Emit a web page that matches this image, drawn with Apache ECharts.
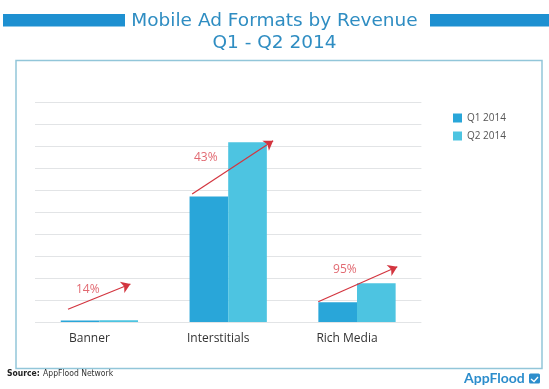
<!DOCTYPE html>
<html>
<head>
<meta charset="utf-8">
<script src="https://cdn.jsdelivr.net/npm/echarts@6/dist/echarts.min.js"></script>
<style>html,body{margin:0;padding:0;background:#fff;}#c{width:549px;height:389px;}</style>
</head>
<body>
<div id="c"></div>
<script>
const categories = ['Banner', 'Interstitials', 'Rich Media'];
const q1Values = [0.07, 5.7, 0.9];
const q2Values = [0.08, 8.17, 1.76];
const seriesNames = ['Q1 2014', 'Q2 2014'];
const growthLabels = ['14%', '43%', '95%'];
const arrowStart = [[-0.244, 0.58], [0.72, 5.82], [1.699, 0.92]];
const arrowEnd = [[0.241, 1.73], [1.349, 8.24], [2.313, 2.51]];
const labelPos = [[-0.09, 1.49], [0.826, 7.49], [1.906, 2.40]];

const chart = echarts.init(document.getElementById('c'), null, {renderer: 'canvas'});
const FONT = '"Open Sans", Lato, sans-serif';
const option = {
  animation: false,
  backgroundColor: '#ffffff',
  title: {
    text: 'Mobile Ad Formats by Revenue\nQ1 - Q2 2014',
    left: 'center',
    top: 5,
    padding: [5, 5, 5, 14],
    textStyle: {fontFamily: '"DejaVu Sans", sans-serif', fontSize: 18.5, fontWeight: 'normal', color: '#2f8dc2', lineHeight: 22}
  },
  legend: {
    orient: 'vertical',
    left: 448,
    top: 108,
    itemWidth: 9,
    itemHeight: 9,
    itemGap: 8,
    icon: 'rect',
    data: seriesNames,
    textStyle: {fontFamily: FONT, fontSize: 10, color: '#555'}
  },
  grid: {left: 35, right: 127.6, top: 102, bottom: 67},
  xAxis: [{
    type: 'category',
    data: categories,
    axisLine: {show: false},
    axisTick: {show: false},
    axisLabel: {fontFamily: FONT, fontSize: 12, color: '#333', margin: 11, padding: [0, 20, 0, 0]}
  }, {
    type: 'value', min: -0.5, max: 2.5, show: false
  }],
  yAxis: {
    type: 'value', min: 0, max: 10, interval: 1,
    axisLine: {show: false}, axisTick: {show: false}, axisLabel: {show: false},
    splitLine: {lineStyle: {color: '#e2e4e6', width: 1}}
  },
  series: [{
    name: seriesNames[0], type: 'bar', data: q1Values, barGap: '0%', barCategoryGap: '40%',
    itemStyle: {color: '#29a6d9'}
  }, {
    name: seriesNames[1], type: 'bar', data: q2Values,
    itemStyle: {color: '#4dc4e1'}
  }, {
    type: 'lines', coordinateSystem: 'cartesian2d', xAxisIndex: 1, yAxisIndex: 0,
    symbol: ['none', 'arrow'], symbolSize: [0, 9],
    lineStyle: {color: '#d3353f', width: 1.2, opacity: 1},
    data: arrowStart.map((s, i) => ({coords: [s, arrowEnd[i]]})),
    z: 5
  }, {
    type: 'scatter', xAxisIndex: 1, yAxisIndex: 0, symbolSize: 0,
    data: labelPos.map((p, i) => ({value: p, name: growthLabels[i]})),
    label: {show: true, position: 'inside', formatter: p => p.name, fontFamily: FONT, fontSize: 12, color: '#d9444d'},
    z: 6
  }],
  graphic: [
    {type: 'rect', shape: {x: 3, y: 14, width: 122, height: 12.5}, style: {fill: '#1e90d1'}},
    {type: 'rect', shape: {x: 430, y: 14, width: 119, height: 12.5}, style: {fill: '#1e90d1'}},
    {type: 'rect', shape: {x: 16, y: 60.5, width: 526, height: 308}, style: {fill: 'none', stroke: '#92c6d9', lineWidth: 1.5}, z: -1},
    {type: 'text', left: 7, top: 368, style: {
      text: '{b|Source:} {n|AppFlood Network}',
      rich: {
        b: {fontFamily: '"Liberation Sans Narrow", "DejaVu Sans Condensed", sans-serif', fontWeight: 'bold', fontSize: 8.5, fill: '#222'},
        n: {fontFamily: '"Liberation Sans Narrow", "DejaVu Sans Condensed", sans-serif', fontSize: 8.5, fill: '#333'}
      }
    }},
    {type: 'text', left: 464, top: 371.5, style: {text: 'AppFlood', fontFamily: 'Lato, "Open Sans", sans-serif', fontWeight: 'bold', fontSize: 14, fill: '#2c8dcc'}},
    {type: 'rect', shape: {x: 529, y: 373.5, width: 11, height: 10, r: 1.5}, style: {fill: '#2c8dcc'}},
    {type: 'polyline', shape: {points: [[531, 379], [534, 381.5], [538, 377]]}, style: {stroke: '#ffffff', lineWidth: 1.3, fill: 'none'}}
  ]
};
chart.setOption(option);
</script>
</body>
</html>
